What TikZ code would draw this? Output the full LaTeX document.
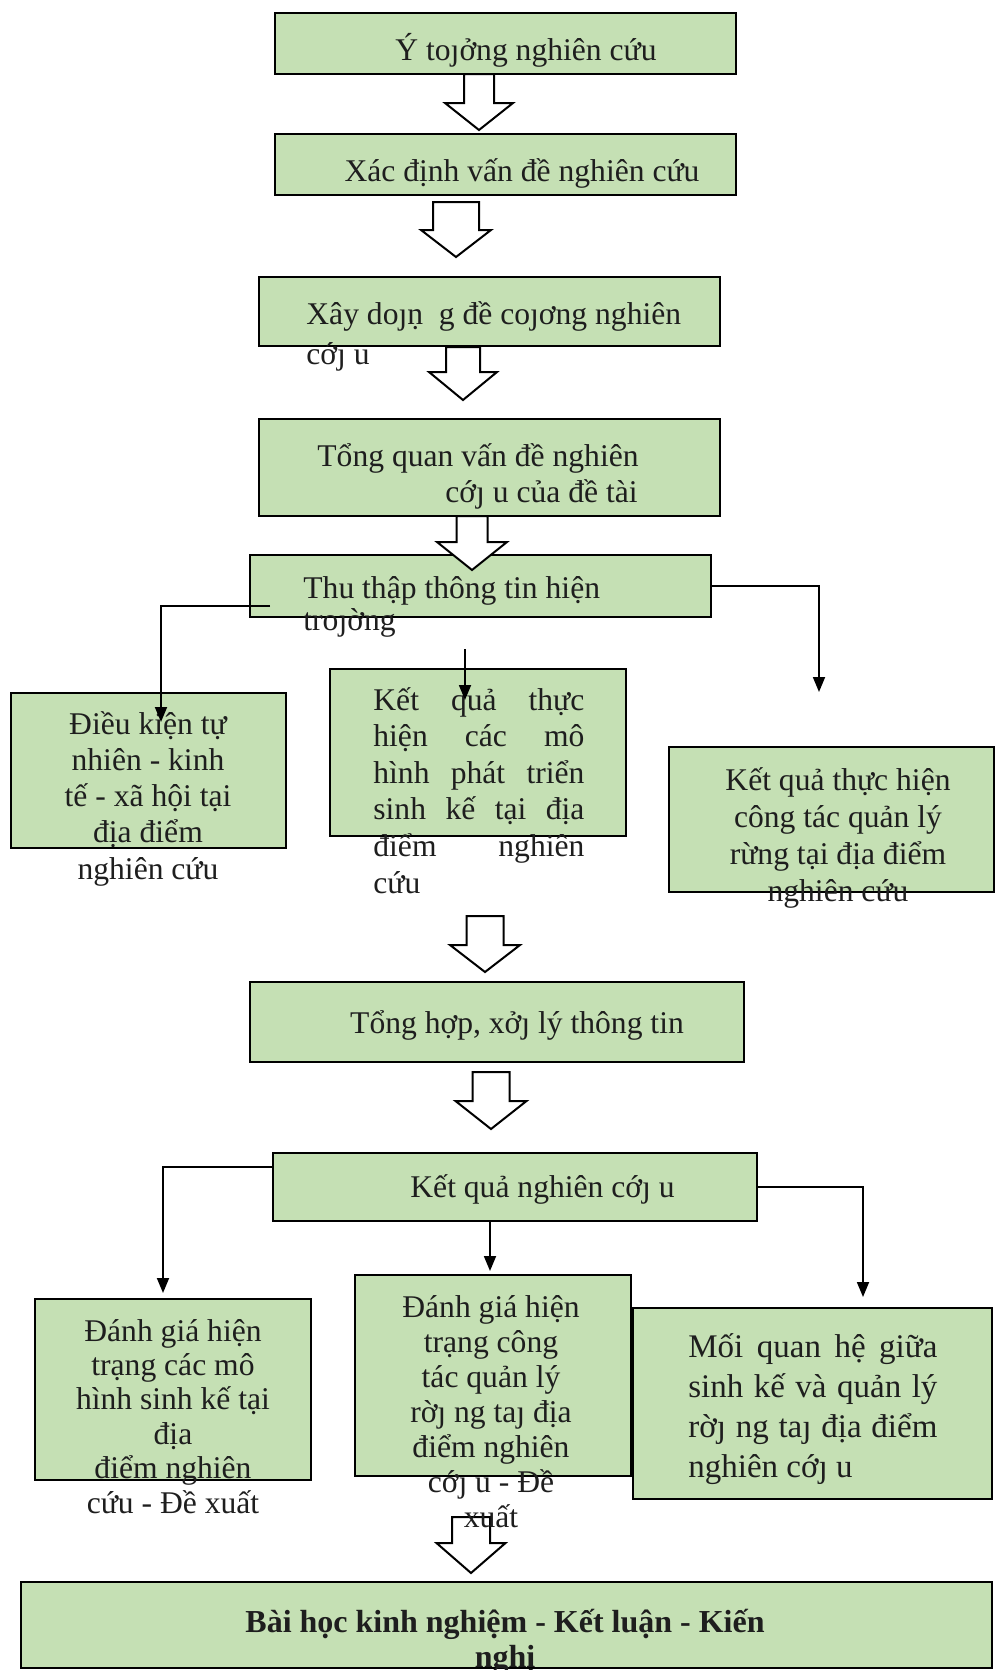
\documentclass[tikz,border=0pt]{standalone}
\usepackage{fontspec}
\setmainfont{Liberation Serif}
\usetikzlibrary{arrows.meta,fit}
\definecolor{boxgreen}{RGB}{197,224,180}
\definecolor{inkgray}{RGB}{30,30,30}
\tikzset{
  box/.style={draw=black, line width=1pt, fill=boxgreen, inner sep=0pt},
  txt/.style={inner sep=0pt, text=inkgray},
  link/.style={line width=0.9pt, -{Triangle[length=7.5pt,width=6pt]}},
  hollow/.style={draw=black, line width=1pt, fill=white, line join=miter}
}
% hollow block arrow: centre x, top, head base, tip, shaft half width, head half width
\newcommand{\hollowarrow}[6]{%
  \draw[hollow] ({#1-#5},#2) -- ({#1-#5},#3) -- ({#1-#6},#3) -- (#1,#4)
    -- ({#1+#6},#3) -- ({#1+#5},#3) -- ({#1+#5},#2) -- cycle;}

\begin{document}
\begin{tikzpicture}[x=0.5pt, y=-0.5pt, font=\fontsize{15.8}{18}\selectfont]
    \useasboundingbox (0,0) rectangle (995,1670);

    % Boxes
    \node[box, fit={(275,13) (736,74)}] (idea) {};
    \node[box, fit={(275,134) (736,195)}] (problem) {};
    \node[box, fit={(259,277) (720,346)}] (outline) {};
    \node[box, fit={(259,419) (720,516)}] (review) {};
    \node[box, fit={(250,555) (711,617)}] (collect) {};
    \node[box, fit={(11,693) (286,848)}] (natural) {};
    \node[box, fit={(330,669) (626,836)}] (models) {};
    \node[box, fit={(669,747) (994,892)}] (forest) {};
    \node[box, fit={(250,982) (744,1062)}] (process) {};
    \node[box, fit={(273,1153) (757,1221)}] (results) {};
    \node[box, fit={(35,1299) (311,1480)}] (evalmod) {};
    \node[box, fit={(355,1275) (631,1476)}] (evalfor) {};
    \node[box, fit={(633,1308) (992,1499)}] (relation) {};
    \node[box, fit={(21,1582) (992,1668)}] (lesson) {};

    % Block arrows
    \hollowarrow{479}{74}{103}{130}{15}{34}
    \hollowarrow{456}{202}{230}{257}{23}{35}
    \hollowarrow{463}{347}{372}{400}{17}{34}
    \hollowarrow{472}{516}{542}{570}{15.5}{35}
    \hollowarrow{485}{916}{945}{972}{18.5}{35}
    \hollowarrow{491}{1072}{1101}{1129}{18.5}{35.5}
    \hollowarrow{471}{1517}{1543}{1573}{19}{34.5}

    % Texts (multi-line nodes sit on their last baseline)
    \node[txt, anchor=base] (ideatxt) at (526,60) {Ý toȷởng nghiên cứu};
    \node[txt, anchor=base] (problemtxt) at (522,181) {Xác định vấn đề nghiên cứu};
    \node[txt, anchor=base west] (outlinetxt) at (306,324) {Xây doȷṇ \ g đề coȷơng nghiên};
    \node[txt, anchor=base west] (outlinetxtb) at (306,364) {cớȷ u};
    \node[txt, anchor=base west] (reviewtxt) at (317,466) {Tổng quan vấn đề nghiên};
    \node[txt, anchor=base west] (reviewtxtb) at (445,502) {cớȷ u của đề tài};
    \node[txt, anchor=base west] (collecttxt) at (303,598) {Thu thập thông tin hiện};
    \node[txt, anchor=base west] (collecttxtb) at (303,630) {troȷờng};
    \node[txt, anchor=base, align=center, font=\fontsize{15.8}{18.1}\selectfont] (naturaltxt) at (148,879)
        {Điều kiện tự\\nhiên - kinh\\tế - xã hội tại\\địa điểm\\nghiên cứu};
    \node[txt, anchor=base west, align=left, font=\fontsize{15.8}{18.3}\selectfont] (modelstxt) at (373,893)
        {\makebox[105.5pt][s]{Kết quả thực}\\\makebox[105.5pt][s]{hiện các mô}\\
         \makebox[105.5pt][s]{hình phát triển}\\\makebox[105.5pt][s]{sinh kế tại địa}\\
         \makebox[105.5pt][s]{điểm nghiên}\\cứu};
    \node[txt, anchor=base, align=center, font=\fontsize{15.8}{18.5}\selectfont] (foresttxt) at (838,901)
        {Kết quả thực hiện\\công tác quản lý\\rừng tại địa điểm\\nghiên cứu};
    \node[txt, anchor=base] (processtxt) at (517,1033) {Tổng hợp, xởȷ lý thông tin};
    \node[txt, anchor=base west] (resultstxt) at (410,1197) {Kết quả nghiên cớȷ u};
    \node[txt, anchor=base, align=center, font=\fontsize{15.8}{17.2}\selectfont] (evalmodtxt) at (173,1513)
        {Đánh giá hiện\\trạng các mô\\hình sinh kế tại\\địa\\điểm nghiên\\cứu - Đề xuất};
    \node[txt, anchor=base, align=center, font=\fontsize{15.8}{17.5}\selectfont] (evalfortxt) at (491,1527)
        {Đánh giá hiện\\trạng công\\tác quản lý\\rờȷ ng taȷ địa\\điểm nghiên\\cớȷ u - Đề\\xuất};
    \node[txt, anchor=base west, align=left, font=\fontsize{16.5}{20}\selectfont] (relationtxt) at (688,1477)
        {\makebox[124.5pt][s]{Mối quan hệ giữa}\\\makebox[124.5pt][s]{sinh kế và quản lý}\\
         \makebox[124.5pt][s]{rờȷ ng taȷ địa điểm}\\nghiên cớȷ u};
    \node[txt, anchor=base, align=center, font=\fontsize{16}{17.5}\selectfont\bfseries] (lessontxt) at (505,1667)
        {Bài học kinh nghiệm - Kết luận - Kiến\\nghị};

    % Connectors from field data collection
    \coordinate (collectL) at (270,606);
    \coordinate (naturaltip) at (161,722);
    \coordinate (collectM) at (465,649);
    \coordinate (modelstip) at (465,700);
    \coordinate (foresttip) at (819,692);
    \draw[link] (collectL) -| (naturaltip);
    \draw[link] (collectM) -- (modelstip);
    \draw[link] (collect.east) -| (foresttip);

    % Connectors from research results
    \coordinate (resultsL) at (273,1167);
    \coordinate (evalmodtip) at (163,1293);
    \coordinate (evalfortip) at (490,1271);
    \coordinate (relationtip) at (863,1297);
    \draw[link] (resultsL) -| (evalmodtip);
    \draw[link] (results.south -| evalfortip) -- (evalfortip);
    \draw[link] (results.east) -| (relationtip);

\end{tikzpicture}
\end{document}
